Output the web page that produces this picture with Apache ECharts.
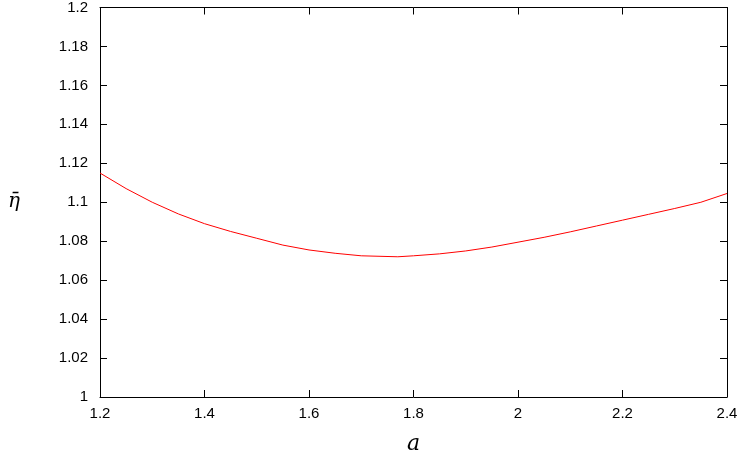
<!DOCTYPE html>
<html><head><meta charset="utf-8">
<script src="https://cdn.jsdelivr.net/npm/echarts@6/dist/echarts.min.js"></script>
<style>html,body{margin:0;padding:0;background:#fff}#c{width:747px;height:465px}</style>
</head><body><div id="c"></div>
<script>
const xValues = [1.2, 1.25, 1.3, 1.35, 1.4, 1.45, 1.5, 1.55, 1.6, 1.65, 1.7, 1.77, 1.8, 1.85, 1.9, 1.95, 2.0, 2.05, 2.1, 2.15, 2.2, 2.25, 2.3, 2.35, 2.4];
const etaValues = [1.115, 1.107, 1.100, 1.094, 1.089, 1.085, 1.0815, 1.078, 1.0755, 1.0738, 1.0725, 1.072, 1.0725, 1.0735, 1.075, 1.077, 1.0795, 1.082, 1.0848, 1.0878, 1.0908, 1.0938, 1.0968, 1.1, 1.1045];
const ch = echarts.init(document.getElementById('c'));
const lab = {color:'#000', fontFamily:'Liberation Sans', fontSize:15};
const line = {lineStyle:{color:'#000', width:1}};
function xa(show, pos){return {type:'value', min:1.2, max:2.4, interval:0.2, position:pos, axisLine:{show:true, onZero:false, ...line}, axisTick:{inside:true, length:7, ...line}, minorTick:{show:false}, splitLine:{show:false}, axisLabel:{show:show, ...lab, margin:9, formatter:v=>+v.toFixed(1)+''}};}
function ya(show, pos){return {type:'value', min:1, max:1.2, interval:0.02, position:pos, axisLine:{show:true, onZero:false, ...line}, axisTick:{inside:true, length:7, ...line}, splitLine:{show:false}, axisLabel:{show:show, ...lab, margin:12, formatter:v=>+v.toFixed(2)+''}};}
ch.setOption({
  animation:false,
  grid:{left:100, right:20, top:7, bottom:68},
  xAxis:[{...xa(true,'bottom'), name:'a', nameLocation:'middle', nameGap:36, nameTextStyle:{fontFamily:'DejaVu Serif', fontStyle:'italic', fontSize:22, color:'#000'}}, xa(false,'top')],
  yAxis:[{...ya(true,'left'), name:'η̄', nameLocation:'middle', nameGap:80, nameRotate:0, nameTextStyle:{fontFamily:'DejaVu Serif', fontStyle:'italic', fontSize:20, color:'#000'}}, ya(false,'right')],
  series:[{type:'line', xAxisIndex:0, yAxisIndex:0, data:xValues.map((x,i)=>[x, etaValues[i]]), showSymbol:false, lineStyle:{color:'#ff0000', width:1}}]
});
</script></body></html>
